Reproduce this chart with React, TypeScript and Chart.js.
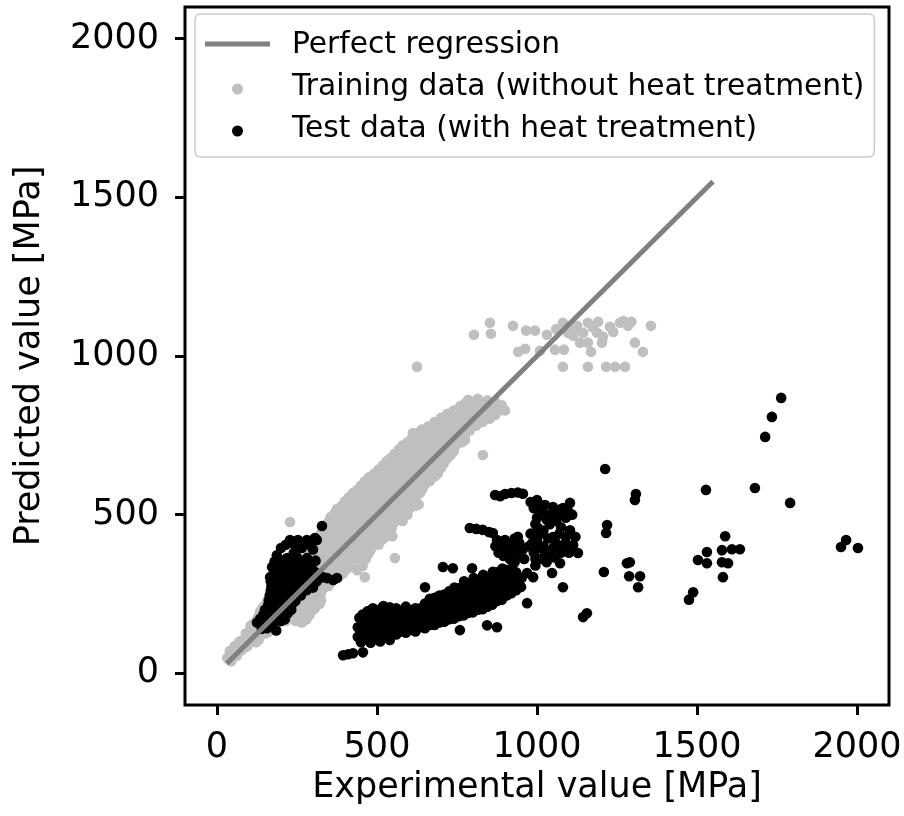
import React, { useEffect, useRef } from 'react';
import { Chart, registerables } from 'chart.js';

Chart.register(...registerables);

const FONT = '"DejaVu Sans", "Liberation Sans", sans-serif';

const xTickValues = [0, 500, 1000, 1500, 2000];
const yTickValues = [0, 500, 1000, 1500, 2000];

const seriesLabels = [
  'Perfect regression',
  'Training data (without heat treatment)',
  'Test data (with heat treatment)',
];

const regressionX = [30, 1550];
const regressionY = [30, 1550];

const trainingPoints: [number, number][] = [
  [32, 48], [45, 38], [52, 62], [40, 70], [60, 60], [75, 72], [55, 85],
  [80, 95], [95, 85], [70, 100], [100, 110], [115, 120], [90, 125], [130, 105],
  [115, 145], [130, 135], [145, 150], [160, 130], [105, 150],
  [125, 170], [145, 165], [165, 175], [190, 160], [215, 165], [245, 165], [280, 170], [265, 160],
  [135, 195], [160, 190], [185, 195], [210, 185], [240, 190], [270, 195], [290, 185],
  [150, 215], [175, 220], [200, 210], [230, 215], [260, 220], [290, 210], [320, 218],
  [165, 245], [195, 240], [225, 245], [255, 238], [285, 245], [315, 240],
  [190, 265], [220, 270], [250, 262], [280, 268], [310, 265], [335, 270],
  [215, 290], [245, 295], [275, 288], [305, 292], [335, 290], [355, 285],
  [245, 318], [275, 315], [305, 320], [335, 312], [365, 318], [395, 315],
  [270, 342], [300, 338], [330, 345], [360, 340], [390, 336], [420, 342], [455, 338],
  [285, 368], [315, 365], [345, 370], [375, 362], [405, 368], [435, 365], [465, 360],
  [300, 392], [330, 388], [360, 395], [390, 390], [420, 386], [450, 392], [480, 388],
  [310, 418], [340, 415], [370, 420], [400, 412], [430, 418], [460, 415], [490, 410], [515, 420],
  [325, 442], [355, 438], [385, 445], [415, 440], [445, 436], [475, 442], [505, 440], [535, 445], [548, 432],
  [340, 468], [370, 465], [400, 470], [430, 462], [460, 468], [490, 465], [520, 460], [550, 470],
  [355, 492], [385, 488], [415, 495], [445, 490], [475, 486], [505, 492], [535, 488], [565, 495], [580, 480],
  [375, 518], [405, 515], [435, 520], [465, 512], [495, 518], [525, 515], [555, 510], [585, 518], [605, 522],
  [400, 542], [430, 538], [460, 545], [490, 540], [520, 536], [550, 542], [580, 538], [610, 545], [630, 532],
  [425, 568], [455, 565], [485, 570], [515, 562], [545, 568], [575, 565], [605, 560], [635, 570],
  [450, 592], [480, 588], [510, 595], [540, 590], [570, 586], [600, 592], [630, 588], [650, 596],
  [475, 618], [505, 615], [535, 620], [565, 612], [595, 618], [625, 615], [655, 610], [680, 620],
  [505, 642], [535, 638], [565, 645], [595, 640], [625, 636], [655, 642], [685, 640], [700, 648],
  [530, 668], [560, 665], [590, 670], [620, 662], [650, 668], [680, 665], [708, 660],
  [555, 692], [585, 688], [615, 695], [645, 690], [675, 686], [705, 692], [730, 688],
  [580, 718], [610, 715], [640, 720], [670, 712], [700, 718], [730, 715], [750, 722],
  [610, 742], [640, 738], [670, 745], [700, 740], [730, 736], [760, 742], [775, 735],
  [640, 768], [670, 765], [700, 770], [730, 762], [760, 768], [790, 765],
  [680, 792], [710, 788], [740, 795], [770, 790], [800, 786], [830, 792],
  [720, 818], [750, 815], [780, 820], [810, 812], [840, 818], [870, 815],
  [760, 842], [790, 838], [820, 845], [850, 840], [880, 836], [900, 828],
  [785, 862], [815, 865], [845, 860], [870, 855],
  // staggered fill of the dense band
  [40, 52], [62, 55], [63, 78], [85, 80], [78, 103], [108, 100], [122, 98],
  [100, 130], [122, 128], [150, 125], [112, 155], [138, 152], [160, 150], [185, 150],
  [130, 180], [152, 178], [178, 180], [200, 175], [228, 178], [255, 176], [282, 180],
  [142, 205], [168, 203], [196, 200], [224, 202], [252, 205], [280, 200], [305, 203],
  [158, 230], [182, 228], [210, 226], [240, 230], [270, 228], [300, 225], [325, 230],
  [178, 255], [208, 252], [238, 255], [268, 252], [298, 255], [325, 252],
  [202, 278], [232, 280], [262, 276], [292, 280], [322, 278], [348, 275],
  [230, 303], [260, 305], [290, 302], [320, 305], [350, 300], [380, 303],
  [258, 328], [288, 330], [318, 326], [348, 330], [378, 326], [408, 330], [438, 325],
  [278, 355], [300, 352], [330, 355], [360, 352], [390, 355], [420, 350], [450, 355],
  [292, 378], [322, 380], [352, 376], [382, 380], [412, 376], [442, 380], [472, 375],
  [305, 405], [335, 402], [365, 405], [395, 400], [425, 405], [455, 402], [485, 400], [505, 405],
  [320, 430], [350, 428], [380, 430], [410, 426], [440, 430], [470, 428], [500, 425], [528, 430],
  [335, 455], [365, 452], [395, 455], [425, 450], [455, 455], [485, 452], [515, 450], [545, 455],
  [350, 478], [380, 480], [410, 476], [440, 480], [470, 476], [500, 480], [530, 475], [560, 480],
  [368, 505], [398, 502], [428, 505], [458, 500], [488, 505], [518, 502], [548, 500], [578, 505], [595, 500],
  [390, 528], [418, 530], [448, 526], [478, 530], [508, 526], [538, 530], [568, 525], [598, 530], [620, 528],
  [412, 555], [442, 552], [472, 555], [502, 550], [532, 555], [562, 552], [592, 550], [622, 555],
  [438, 578], [468, 580], [498, 576], [528, 580], [558, 576], [588, 580], [618, 575], [642, 580],
  [462, 605], [492, 602], [522, 605], [552, 600], [582, 605], [612, 602], [642, 600], [665, 605],
  [490, 628], [520, 630], [550, 626], [580, 630], [610, 626], [640, 630], [670, 625], [690, 630],
  [518, 655], [548, 652], [578, 655], [608, 650], [638, 655], [668, 652], [695, 650],
  [542, 678], [572, 680], [602, 676], [632, 680], [662, 676], [692, 680], [718, 675],
  [568, 705], [598, 702], [628, 705], [658, 700], [688, 705], [718, 702], [740, 700],
  [595, 728], [625, 730], [655, 726], [685, 730], [715, 726], [745, 730], [765, 728],
  [625, 755], [655, 752], [685, 755], [715, 750], [745, 755], [775, 752],
  [660, 778], [690, 780], [720, 776], [750, 780], [780, 776], [810, 780],
  [700, 805], [730, 802], [760, 805], [790, 800], [820, 805], [852, 802],
  [740, 828], [770, 830], [800, 826], [830, 830], [860, 826], [885, 830],
  [775, 850], [805, 852], [835, 850], [862, 848], [890, 845],
  // strays
  [625, 966], [612, 757], [628, 757], [831, 688], [556, 363], [228, 477], [462, 303], [322, 221],
  // upper cluster
  [803, 1067], [853, 1105], [856, 1070], [925, 1095], [966, 1080], [994, 1080], [1031, 1067],
  [941, 1013], [963, 1023], [1009, 1016], [1056, 1020], [1084, 1020],
  [1081, 966], [1159, 966], [1216, 966], [1244, 966], [1275, 966],
  [1081, 1105], [1113, 1083], [1144, 1073], [1159, 1105], [1191, 1108], [1228, 1092],
  [1259, 1105], [1284, 1095], [1356, 1095], [1134, 1042], [1159, 1042], [1169, 1013],
  [1203, 1042], [1206, 1061], [1188, 1073], [1306, 1042], [1331, 1013], [1113, 1064],
  [1097, 1073], [1238, 1076], [1060, 1085], [1125, 1095], [1175, 1090], [1270, 1110], [1295, 1108],
];

const testPoints: [number, number][] = [
  // low-strength cluster
  [328, 464],
  [228, 420], [253, 420], [281, 420], [306, 426], [312, 420],
  [215, 405], [240, 408], [290, 405],
  [187, 372], [219, 363], [250, 366], [281, 363], [300, 390], [200, 395], [265, 395], [240, 380],
  [180, 352], [205, 355], [232, 350], [258, 352], [285, 350], [308, 355],
  [172, 335], [195, 340], [220, 335], [245, 340], [270, 335], [295, 340],
  [178, 320], [203, 322], [228, 318], [253, 322], [278, 318], [305, 320],
  [166, 303], [190, 305], [215, 300], [240, 308], [265, 302], [290, 305], [322, 303], [344, 300], [363, 294], [331, 303], [375, 300],
  [168, 290], [182, 288], [208, 292], [232, 288], [258, 290], [284, 288], [312, 290],
  [170, 275], [195, 270], [220, 278], [245, 272], [270, 275], [300, 270],
  [168, 260], [178, 262], [202, 258], [228, 262], [255, 258], [280, 262],
  [165, 245], [190, 250], [215, 242], [240, 248], [262, 245],
  [162, 230], [172, 232], [198, 228], [222, 232], [245, 228],
  [160, 215], [185, 220], [210, 212], [235, 218],
  [150, 200], [158, 202], [182, 198], [208, 202], [232, 200],
  [145, 185], [170, 190], [195, 182], [220, 188], [197, 177],
  [135, 172], [162, 175], [188, 172], [212, 170],
  [125, 160], [150, 165], [175, 158], [200, 165], [156, 142], [140, 140], [185, 135],
  // main band
  [394, 57], [410, 60], [425, 63], [456, 66],
  [450, 98], [480, 96], [510, 100], [540, 105],
  [440, 115], [440, 145], [445, 175],
  [455, 125], [455, 155], [455, 185],
  [470, 108], [468, 135], [472, 165], [470, 195],
  [485, 118], [485, 148], [485, 178],
  [500, 112], [502, 140], [498, 170], [500, 198],
  [515, 122], [515, 152], [515, 182], [515, 205],
  [530, 118], [528, 145], [532, 172], [530, 200],
  [545, 128], [545, 158], [545, 188],
  [560, 122], [562, 150], [558, 178], [560, 205],
  [575, 132], [575, 162], [575, 192],
  [590, 128], [592, 155], [588, 182], [590, 210],
  [605, 138], [605, 168], [605, 196],
  [620, 132], [622, 160], [618, 185], [620, 205],
  [635, 145], [635, 175], [635, 205],
  [650, 142], [652, 168], [648, 195], [650, 220],
  [665, 152], [665, 182], [665, 212], [665, 235],
  [680, 152], [682, 180], [678, 208], [680, 238],
  [695, 160], [695, 190], [695, 220], [695, 245],
  [710, 162], [712, 190], [708, 218], [710, 248],
  [725, 170], [725, 200], [725, 230], [725, 258],
  [740, 172], [742, 200], [738, 228], [740, 256], [742, 270],
  [755, 180], [755, 210], [755, 240], [755, 268],
  [770, 182], [772, 210], [768, 238], [770, 266], [772, 290],
  [785, 190], [785, 220], [785, 250], [785, 280],
  [800, 192], [802, 220], [798, 248], [800, 276], [802, 300],
  [815, 200], [815, 230], [815, 260], [815, 290],
  [830, 202], [832, 230], [828, 258], [830, 286], [832, 310],
  [845, 210], [845, 240], [845, 270], [845, 300],
  [860, 216], [862, 244], [858, 272], [860, 300], [862, 320],
  [875, 228], [875, 258], [875, 288], [875, 318],
  [890, 232], [892, 260], [888, 288], [890, 315], [892, 330],
  [905, 245], [905, 275], [905, 305], [905, 325],
  [920, 252], [922, 280], [918, 308], [920, 330],
  [935, 262], [935, 292], [935, 318],
  [950, 272], [952, 300],
  [487, 205], [540, 208], [520, 212], [706, 335], [737, 331], [650, 271], [797, 331],
  [759, 136], [844, 151], [875, 145], [969, 221], [1081, 271], [1047, 316], [969, 316],
  [1156, 189], [1144, 177],
  // upper clusters
  [790, 458], [810, 455], [830, 452], [850, 445], [862, 442],
  [869, 562], [885, 558], [900, 565], [920, 568], [940, 570], [956, 566],
  [875, 420], [890, 400], [905, 380], [920, 410], [935, 395], [950, 370], [880, 380],
  [900, 420], [940, 430], [960, 360], [870, 400], [915, 360], [930, 350],
  [885, 410], [910, 395], [925, 380], [945, 410], [895, 370], [955, 390], [930, 425],
  [980, 540], [1000, 546], [1010, 530], [1025, 530], [1050, 524], [1070, 515], [1081, 521],
  [1103, 537], [1110, 500], [1090, 490], [1060, 480], [1040, 470], [1003, 458], [1020, 450],
  [1050, 429], [1103, 451], [1113, 404], [1081, 398], [1128, 379], [1100, 380], [1072, 347],
  [988, 303], [980, 440], [1000, 420], [1020, 400], [990, 380], [1010, 360], [1030, 350],
  [1040, 380], [1060, 410], [975, 400], [995, 340],
  [990, 520], [1015, 510], [1040, 500], [1065, 495], [1000, 490], [1030, 485], [995, 470],
  [1075, 460], [1090, 430], [1070, 440], [1010, 440], [1035, 425], [985, 410], [1005, 395],
  [1050, 395], [1075, 380], [1025, 375], [995, 360], [1055, 365], [1090, 410], [1120, 430], [1095, 515],
  // high-strength outliers
  [1213, 644], [1309, 565], [1306, 546], [1219, 467], [1216, 442], [1209, 319],
  [1281, 347], [1290, 350], [1288, 306], [1322, 306], [1316, 271],
  [1528, 578], [1488, 255], [1475, 232], [1588, 432], [1531, 382], [1578, 388],
  [1609, 391], [1634, 391], [1503, 357], [1531, 347], [1578, 350], [1597, 347], [1581, 303],
  [1681, 584], [1713, 745], [1734, 808], [1763, 868], [1791, 537],
  [1966, 420], [1950, 398], [2003, 395],
];

const framePlugin = {
  id: 'frameAndLegend',
  afterDraw(chart: any) {
    const { ctx, chartArea } = chart;
    const { left, top, right, bottom } = chartArea;
    ctx.save();
    ctx.strokeStyle = '#000';
    ctx.lineWidth = 3;
    ctx.strokeRect(left, top, right - left, bottom - top);

    ctx.font = `29.7px ${FONT}`;
    const textWidths = chart.data.datasets.map((d: any) => ctx.measureText(d.label).width);
    const maxW = Math.max(...textWidths);
    const bx = left + 10;
    const by = top + 7;
    const handleLen = 65;
    const textX = bx + 10 + handleLen + 22;
    const bw = textX - bx + maxW + 10;
    const rowH = 42;
    const bh = 143;
    const r = 6;
    ctx.beginPath();
    ctx.moveTo(bx + r, by);
    ctx.lineTo(bx + bw - r, by);
    ctx.quadraticCurveTo(bx + bw, by, bx + bw, by + r);
    ctx.lineTo(bx + bw, by + bh - r);
    ctx.quadraticCurveTo(bx + bw, by + bh, bx + bw - r, by + bh);
    ctx.lineTo(bx + r, by + bh);
    ctx.quadraticCurveTo(bx, by + bh, bx, by + bh - r);
    ctx.lineTo(bx, by + r);
    ctx.quadraticCurveTo(bx, by, bx + r, by);
    ctx.closePath();
    ctx.fillStyle = 'rgba(255,255,255,0.85)';
    ctx.fill();
    ctx.strokeStyle = '#cccccc';
    ctx.lineWidth = 1.5;
    ctx.stroke();

    chart.data.datasets.forEach((d: any, i: number) => {
      const cy = by + 31 + i * rowH;
      if (d.showLine) {
        ctx.strokeStyle = d.borderColor;
        ctx.lineWidth = d.borderWidth;
        ctx.beginPath();
        ctx.moveTo(bx + 10, cy - 1);
        ctx.lineTo(bx + 10 + handleLen, cy - 1);
        ctx.stroke();
      } else {
        ctx.fillStyle = d.backgroundColor;
        ctx.beginPath();
        ctx.arc(bx + 10 + handleLen / 2, cy + 2, 5.5, 0, Math.PI * 2);
        ctx.fill();
      }
      ctx.fillStyle = '#000';
      ctx.textBaseline = 'middle';
      ctx.textAlign = 'left';
      ctx.fillText(d.label, textX, cy);
    });
    ctx.restore();
  },
};

export default function App() {
  const canvasRef = useRef<HTMLCanvasElement | null>(null);

  useEffect(() => {
    const canvas = canvasRef.current;
    if (!canvas) return;
    const tickFont = { family: FONT, size: 35 };
    const chart = new Chart(canvas, {
      type: 'scatter',
      data: {
        datasets: [
          {
            label: seriesLabels[0],
            data: regressionX.map((x, i) => ({ x, y: regressionY[i] })),
            showLine: true,
            borderColor: '#808080',
            borderWidth: 5,
            pointRadius: 0,
            order: 0,
          } as any,
          {
            label: seriesLabels[1],
            data: trainingPoints.map(([x, y]) => ({ x, y })),
            backgroundColor: '#bfbfbf',
            borderWidth: 0,
            pointRadius: 5.3,
            order: 2,
          },
          {
            label: seriesLabels[2],
            data: testPoints.map(([x, y]) => ({ x, y })),
            backgroundColor: '#000000',
            borderWidth: 0,
            pointRadius: 5.3,
            order: 1,
          },
        ],
      },
      options: {
        animation: false,
        responsive: false,
        events: [],
        layout: { padding: { top: 7, right: 15, left: 0, bottom: 0 } },
        plugins: { legend: { display: false }, tooltip: { enabled: false } },
        scales: {
          x: {
            type: 'linear',
            min: -100,
            max: 2100,
            afterBuildTicks: (s: any) => {
              s.ticks = xTickValues.map((v) => ({ value: v }));
            },
            afterFit: (s: any) => {
              s.height = 111;
              s.paddingLeft = 0;
              s.paddingRight = 0;
            },
            ticks: {
              font: tickFont,
              color: '#000',
              padding: 12,
              maxRotation: 0,
              autoSkip: false,
              callback: (v: any) => String(v),
            },
            grid: { drawOnChartArea: false, tickLength: 10, tickWidth: 3, tickColor: '#000' },
            border: { display: false },
            title: {
              display: true,
              text: 'Experimental value [MPa]',
              font: tickFont,
              color: '#000',
              padding: { top: 0, bottom: 7 },
            },
          },
          y: {
            type: 'linear',
            min: -100,
            max: 2100,
            afterBuildTicks: (s: any) => {
              s.ticks = yTickValues.map((v) => ({ value: v }));
            },
            afterFit: (s: any) => {
              s.width = 185;
              s.paddingTop = 0;
              s.paddingBottom = 0;
            },
            ticks: {
              font: tickFont,
              color: '#000',
              padding: 16,
              autoSkip: false,
              callback: (v: any) => String(v),
            },
            grid: { drawOnChartArea: false, tickLength: 10, tickWidth: 3, tickColor: '#000' },
            border: { display: false },
            title: {
              display: true,
              text: 'Predicted value [MPa]',
              font: tickFont,
              color: '#000',
              padding: { top: 9, bottom: 0 },
            },
          },
        },
      },
      plugins: [framePlugin],
    } as any);
    return () => chart.destroy();
  }, []);

  return (
    <div style={{ position: 'absolute', left: 0, top: 0, width: 904, height: 816, background: '#fff' }}>
      <canvas ref={canvasRef} width={904} height={816} style={{ display: 'block' }} />
    </div>
  );
}
